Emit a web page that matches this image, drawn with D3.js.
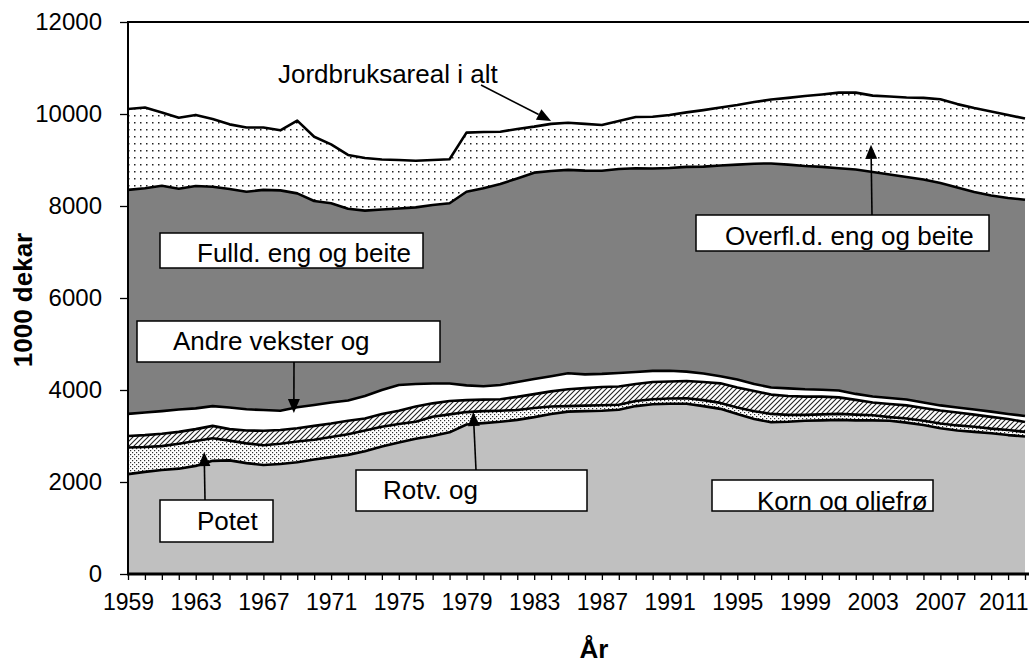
<!DOCTYPE html>
<html><head><meta charset="utf-8">
<script src="https://cdn.jsdelivr.net/npm/d3@7"></script>
<style>
body{margin:0;background:#fff}
svg{display:block}
text{font-family:"Liberation Sans",Arial,sans-serif;fill:#000}
</style>
</head><body>
<svg id="c" width="1029" height="664"></svg>
<script>
// ---- data (1000 dekar) ----
const years = d3.range(1959, 2013);
const korn = [2170,2220,2260,2290,2350,2460,2470,2410,2370,2390,
  2430,2490,2540,2590,2670,2770,2860,2940,3000,3080,
  3250,3280,3310,3350,3410,3480,3530,3540,3550,3570,
  3650,3690,3700,3700,3650,3590,3480,3370,3300,3310,
  3330,3340,3350,3340,3340,3330,3290,3240,3170,3120,
  3090,3060,3020,2990];
const potet = [580,540,520,540,540,490,430,430,430,440,
  450,430,440,450,450,430,400,370,420,390,
  270,260,240,215,200,160,120,120,120,110,
  110,110,115,120,130,130,140,170,180,150,
  130,130,130,125,110,80,90,90,100,110,
  110,100,110,100];
const rotv = [250,260,270,260,260,270,250,280,315,300,
  290,300,290,290,260,280,290,330,290,290,
  260,250,250,285,300,330,365,380,395,395,
  370,375,370,375,395,425,435,440,420,410,
  395,385,360,320,280,285,285,280,285,280,
  265,255,240,215];
const andre = [480,490,490,485,450,430,470,460,450,420,
  455,455,460,440,490,520,560,490,430,380,
  320,290,310,325,330,330,350,300,285,295,
  260,240,235,205,185,155,175,150,155,165,
  160,150,150,130,130,130,130,120,110,110,
  110,115,110,130];
const fulld = [4870,4875,4900,4800,4835,4770,4750,4730,4785,4790,
  4650,4435,4330,4170,4030,3925,3835,3840,3880,3920,
  4210,4305,4370,4425,4485,4460,4420,4430,4415,4435,
  4430,4400,4405,4450,4495,4580,4670,4790,4870,4865,
  4855,4845,4830,4880,4880,4860,4835,4845,4835,4780,
  4730,4700,4695,4700];
const overfl = [1760,1755,1595,1545,1545,1470,1405,1395,1355,1305,
  1580,1395,1280,1170,1145,1085,1055,1015,980,955,
  1285,1225,1135,1075,1000,1025,1025,1015,995,1045,
  1115,1125,1155,1185,1230,1260,1295,1340,1390,1450,
  1520,1575,1645,1670,1660,1695,1730,1775,1820,1815,
  1825,1825,1805,1765];
const seriesKeys = ["korn","potet","rotv","andre","fulld","overfl"];
const yTicks = [0,2000,4000,6000,8000,10000,12000];
const xLabelYears = d3.range(1959, 2013, 4);

// annotations: tip in data coordinates, box/text layout in pixels
const annotations = [
  {text:"Jordbruksareal i alt", box:null, tx:278, ty:83, from:[481,85], tip:[1984.0, 9850]},
  {text:"Overfl.d. eng og beite", box:[696,215,293,36], tx:725, ty:245, from:[872,215], tip:[2002.9, 9330]},
  {text:"Fulld. eng og beite", box:[160,233,263,35], tx:197, ty:262, from:null, tip:null},
  {text:"Andre vekster og", box:[137,321,303,41], tx:173, ty:350, from:[294,362], tip:[1968.8, 3500]},
  {text:"Potet", box:[160,500,113,42], tx:197, ty:530, from:[205,500], tip:[1963.5, 2650]},
  {text:"Rotv. og", box:[356,470,231,41], tx:383, ty:499, from:[476,470], tip:[1979.4, 3520]},
  {text:"Korn og oljefrø", box:[712,480,221,31], tx:757, ty:510, from:null, tip:null, clip:true}
];

// ---- setup ----
const svg = d3.select("#c");
const x = d3.scaleLinear().domain([1959, 2012]).range([128, 1025]);
const y = d3.scaleLinear().domain([0, 12000]).range([574, 22]);

const table = years.map((yr, i) => ({year: yr, korn: korn[i], potet: potet[i], rotv: rotv[i],
  andre: andre[i], fulld: fulld[i], overfl: overfl[i]}));
const stacked = d3.stack().keys(seriesKeys)(table);

// patterns
const defs = svg.append("defs");
const pSparse = defs.append("pattern").attr("id","pSparse").attr("patternUnits","userSpaceOnUse")
  .attr("width",6).attr("height",7);
pSparse.append("rect").attr("width",6).attr("height",7).attr("fill","#fff");
pSparse.append("rect").attr("x",2).attr("y",3).attr("width",1.5).attr("height",1.5).attr("fill","#222");

const pDense = defs.append("pattern").attr("id","pDense").attr("patternUnits","userSpaceOnUse")
  .attr("width",4).attr("height",4);
pDense.append("rect").attr("width",4).attr("height",4).attr("fill","#fff");
pDense.append("rect").attr("x",0).attr("y",0).attr("width",1.2).attr("height",1.2).attr("fill","#333");
pDense.append("rect").attr("x",2).attr("y",2).attr("width",1.2).attr("height",1.2).attr("fill","#333");

const pHatch = defs.append("pattern").attr("id","pHatch").attr("patternUnits","userSpaceOnUse")
  .attr("width",5).attr("height",5);
pHatch.append("rect").attr("width",5).attr("height",5).attr("fill","#fff");
pHatch.append("path").attr("d","M-1,1 L1,-1 M0,5 L5,0 M4,6 L6,4").attr("stroke","#222").attr("stroke-width",1.1);

const fills = {korn:"#c0c0c0", potet:"url(#pDense)", rotv:"url(#pHatch)", andre:"#ffffff",
  fulld:"#808080", overfl:"url(#pSparse)"};

defs.append("clipPath").attr("id","plotClip").append("rect")
  .attr("x",128).attr("y",0).attr("width",901).attr("height",575);

// ---- areas ----
const area = d3.area().x(d => x(d.data.year)).y0(d => y(d[0])).y1(d => y(d[1]));
const line = d3.line().x(d => x(d.data.year)).y(d => y(d[1]));
const gPlot = svg.append("g").attr("clip-path","url(#plotClip)");
gPlot.selectAll("path.area").data(stacked).join("path").attr("class","area")
  .attr("d", area).attr("fill", d => fills[d.key]).attr("stroke","none");
gPlot.selectAll("path.line").data(stacked).join("path").attr("class","line")
  .attr("d", line).attr("fill","none").attr("stroke","#000").attr("stroke-width",2.6)
  .attr("stroke-linejoin","round");

// ---- frame / axes ----
svg.append("line").attr("x1",128).attr("x2",1029).attr("y1",22).attr("y2",22)
  .attr("stroke","#000").attr("stroke-width",2);

const yAxis = d3.axisLeft(y).tickValues(yTicks).tickSize(8).tickPadding(18).tickFormat(d3.format("d"));
const gy = svg.append("g").attr("transform","translate(128,0)").call(yAxis);
gy.select(".domain").remove();
gy.selectAll(".tick line").attr("stroke","#000").attr("stroke-width",1.3);
gy.selectAll(".tick text").attr("font-size",24).attr("font-family","Liberation Sans, Arial, sans-serif");
svg.append("line").attr("x1",128).attr("x2",128).attr("y1",21).attr("y2",575)
  .attr("stroke","#000").attr("stroke-width",2);

const xAxis = d3.axisBottom(x).tickValues(years).tickSize(6).tickPadding(14)
  .tickFormat(d => xLabelYears.includes(d) ? String(d) : "");
const gx = svg.append("g").attr("transform","translate(0,574)").call(xAxis);
gx.select(".domain").remove();
gx.selectAll(".tick line").attr("stroke","#000").attr("stroke-width",1.3);
gx.selectAll(".tick text").attr("font-size",23).attr("font-family","Liberation Sans, Arial, sans-serif");
// keep the last year label inside the picture
const lastLabel = d3.max(xLabelYears);
gx.selectAll(".tick").filter(d => d === lastLabel).select("text")
  .attr("text-anchor","end").attr("x", 1028 - x(lastLabel));
svg.append("line").attr("x1",127).attr("x2",1029).attr("y1",574).attr("y2",574)
  .attr("stroke","#000").attr("stroke-width",3);

// axis titles
svg.append("text").attr("transform","translate(32,300) rotate(-90)").attr("text-anchor","middle")
  .attr("font-size",26).attr("font-weight","bold").text("1000 dekar");
svg.append("text").attr("x",594).attr("y",658).attr("text-anchor","middle")
  .attr("font-size",26).attr("font-weight","bold").text("År");

// ---- annotations ----
const gAnn = svg.append("g");
annotations.forEach((a, i) => {
  if (a.box) {
    gAnn.append("rect").attr("x",a.box[0]).attr("y",a.box[1]).attr("width",a.box[2]).attr("height",a.box[3])
      .attr("fill","#fff").attr("stroke","#000").attr("stroke-width",1.5);
  }
  const t = gAnn.append("text").attr("x",a.tx).attr("y",a.ty).attr("font-size",26).text(a.text);
  if (a.clip) {
    defs.append("clipPath").attr("id","annClip"+i).append("rect")
      .attr("x",a.box[0]).attr("y",a.box[1]).attr("width",a.box[2]).attr("height",a.box[3]);
    t.attr("clip-path","url(#annClip"+i+")");
  }
  if (a.tip) {
    const [x0,y0] = a.from;
    const x1 = x(a.tip[0]), y1 = y(a.tip[1]);
    const dx = x1-x0, dy = y1-y0, len = Math.hypot(dx,dy);
    const ux = dx/len, uy = dy/len;
    const hl = 14, hw = 6;
    const bx = x1 - ux*hl, by = y1 - uy*hl;
    gAnn.append("line").attr("x1",x0).attr("y1",y0).attr("x2",bx).attr("y2",by)
      .attr("stroke","#000").attr("stroke-width",1.6);
    gAnn.append("path").attr("d",`M${x1},${y1}L${bx - uy*hw},${by + ux*hw}L${bx + uy*hw},${by - ux*hw}Z`)
      .attr("fill","#000");
  }
});
</script>
</body></html>
